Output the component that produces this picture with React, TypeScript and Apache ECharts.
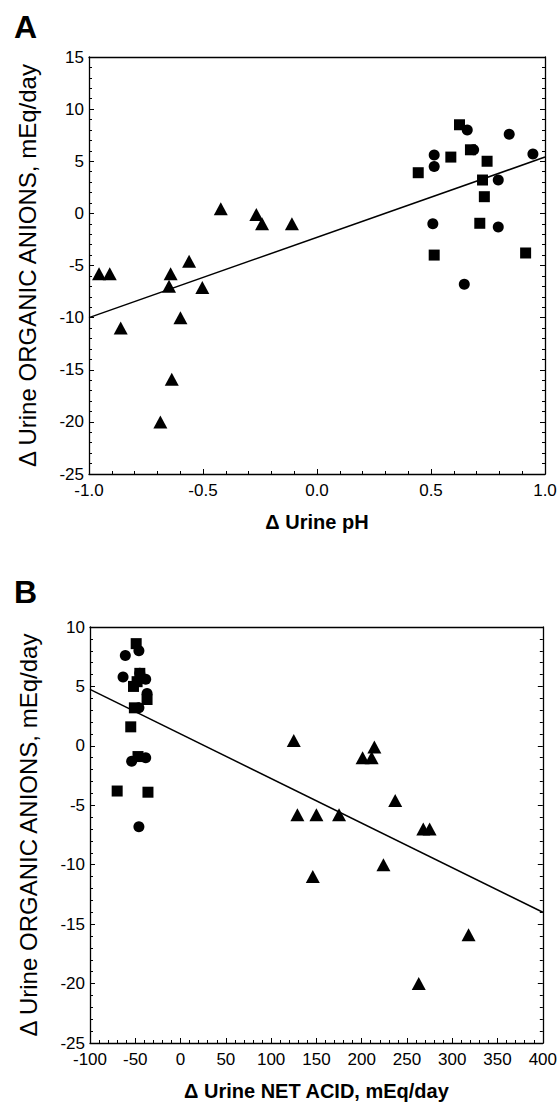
import React, { useEffect, useRef } from "react";
import * as echarts from "echarts";

// Panel A: change in urine pH vs change in urine organic anions
const phTriangles: [number, number][] = [
  [-0.956, -5.8], [-0.909, -5.8], [-0.861, -11.0], [-0.687, -20.0],
  [-0.649, -7.0], [-0.642, -5.8], [-0.637, -15.9], [-0.599, -10.0],
  [-0.561, -4.6], [-0.503, -7.1], [-0.422, 0.45], [-0.266, -0.1],
  [-0.241, -1.0], [-0.11, -1.0],
];
const phSquares: [number, number][] = [
  [0.444, 3.9], [0.514, -4.0], [0.587, 5.4], [0.625, 8.5], [0.673, 6.1],
  [0.746, 5.0], [0.726, 3.2], [0.734, 1.6], [0.714, -0.95], [0.915, -3.8],
];
const phCircles: [number, number][] = [
  [0.514, 5.6], [0.514, 4.5], [0.508, -1.0], [0.659, 8.0], [0.687, 6.1],
  [0.843, 7.6], [0.947, 5.7], [0.795, 3.2], [0.795, -1.3], [0.646, -6.8],
];
const phFit: [number, number][] = [[-1, -10.0], [1, 5.4]];

// Panel B: change in urine net acid vs change in urine organic anions
const acidTriangles: [number, number][] = [
  [125, 0.45], [129, -5.8], [150, -5.8], [175, -5.8], [146, -11.0],
  [201, -1.0], [211, -1.0], [214, -0.1], [237, -4.6], [224, -10.0],
  [268, -7.0], [275, -7.0], [318, -15.9], [263, -20.0],
];
const acidSquares: [number, number][] = [
  [-49, 8.6], [-45, 6.1], [-52, 5.0], [-48, 5.4], [-37, 3.9],
  [-51, 3.2], [-55, 1.6], [-47, -0.9], [-70, -3.8], [-36, -3.9],
];
const acidCircles: [number, number][] = [
  [-46, 8.0], [-61, 7.6], [-45, 6.1], [-63.5, 5.8], [-38.5, 5.6],
  [-37, 4.4], [-46, 3.2], [-54, -1.3], [-38.5, -1.0], [-46, -6.8],
];
const acidFit: [number, number][] = [[-100, 4.75], [400, -14.0]];

const FONT = "'Liberation Sans', Arial, Helvetica, sans-serif";
const INK = "#000";

const yTitle = "Δ Urine ORGANIC ANIONS, mEq/day";

function baseX(gridIndex: number, min: number, max: number, interval: number, name: string, fmt: (v: number) => string) {
  return [
    {
      type: "value", gridIndex, min, max, interval, position: "bottom",
      name, nameLocation: "middle", nameGap: 38,
      nameTextStyle: { fontFamily: FONT, fontSize: 20, fontWeight: "bold", color: INK },
      axisLine: { show: true, onZero: false, lineStyle: { color: INK, width: 1.3 } },
      axisTick: { show: true, inside: true, length: 5, lineStyle: { color: INK, width: 1 } },
      minorTick: { show: true, splitNumber: 5, length: 3, lineStyle: { color: INK, width: 1 } },
      splitLine: { show: false },
      axisLabel: { fontFamily: FONT, fontSize: 17, color: INK, margin: 8, formatter: fmt },
    },
    {
      type: "value", gridIndex, min, max, interval, position: "top",
      axisLine: { show: true, onZero: false, lineStyle: { color: INK, width: 1.3 } },
      axisTick: { show: false }, axisLabel: { show: false }, splitLine: { show: false },
    },
  ];
}

function baseY(gridIndex: number, min: number, max: number, nameGap: number) {
  return [
    {
      type: "value", gridIndex, min, max, interval: 5, position: "left",
      name: yTitle, nameLocation: "middle", nameRotate: 90, nameGap,
      nameTextStyle: { fontFamily: FONT, fontSize: 24, color: INK },
      axisLine: { show: true, onZero: false, lineStyle: { color: INK, width: 1.3 } },
      axisTick: { show: true, inside: true, length: 5, lineStyle: { color: INK, width: 1 } },
      minorTick: { show: true, splitNumber: 5, length: 3, lineStyle: { color: INK, width: 1 } },
      splitLine: { show: false },
      axisLabel: { fontFamily: FONT, fontSize: 17, color: INK, margin: 5 },
    },
    {
      type: "value", gridIndex, min, max, interval: 5, position: "right",
      axisLine: { show: true, onZero: false, lineStyle: { color: INK, width: 1.3 } },
      axisTick: { show: true, inside: true, length: 5, lineStyle: { color: INK, width: 1 } },
      minorTick: { show: true, splitNumber: 5, length: 3, lineStyle: { color: INK, width: 1 } },
      splitLine: { show: false }, axisLabel: { show: false },
    },
  ];
}

function scatter(data: [number, number][], symbol: string, size: number | number[], axisIndex: number) {
  return {
    type: "scatter", xAxisIndex: axisIndex, yAxisIndex: axisIndex, data, symbol, symbolSize: size,
    itemStyle: { color: INK, opacity: 1 }, z: 3,
  };
}

function fitLine(data: [number, number][], axisIndex: number) {
  return {
    type: "line", xAxisIndex: axisIndex, yAxisIndex: axisIndex, data, showSymbol: false, symbol: "none",
    lineStyle: { color: INK, width: 1.5 }, z: 2,
  };
}

export default function App() {
  const ref = useRef<HTMLDivElement>(null);

  useEffect(() => {
    if (!ref.current) return;
    const chart = echarts.init(ref.current, undefined, { renderer: "svg" });
    const xA = baseX(0, -1, 1, 0.5, "Δ Urine pH", (v: number) => v.toFixed(1));
    const xB = baseX(1, -100, 400, 50, "Δ Urine NET ACID, mEq/day", (v: number) => String(v));
    const yA = baseY(0, -25, 15, 50);
    const yB = baseY(1, -25, 10, 50);
    chart.setOption({
      animation: false,
      backgroundColor: "#fff",
      grid: [
        { left: 89, top: 57, width: 456, height: 417 },
        { left: 90, top: 627, width: 456, height: 416 },
      ],
      // index 0/1: panel A bottom/top; 2/3: panel B bottom/top
      xAxis: [xA[0], xA[1], xB[0], xB[1]],
      yAxis: [yA[0], yA[1], yB[0], yB[1]],
      graphic: [
        { type: "text", left: 14, top: 11, style: { text: "A", fontFamily: FONT, fontSize: 32, fontWeight: "bold", fill: INK } },
        { type: "text", left: 14, top: 576, style: { text: "B", fontFamily: FONT, fontSize: 32, fontWeight: "bold", fill: INK } },
      ],
      series: [
        fitLine(phFit, 0),
        scatter(phTriangles, "triangle", [14, 13], 0),
        scatter(phSquares, "rect", 11, 0),
        scatter(phCircles, "circle", 11, 0),
        fitLine(acidFit, 2),
        scatter(acidTriangles, "triangle", [14, 13], 2),
        scatter(acidSquares, "rect", 11, 2),
        scatter(acidCircles, "circle", 11, 2),
      ],
    });
    return () => chart.dispose();
  }, []);

  return (
    <div
      ref={ref}
      style={{ position: "absolute", left: 0, top: 0, width: 560, height: 1107, background: "#fff" }}
    />
  );
}
